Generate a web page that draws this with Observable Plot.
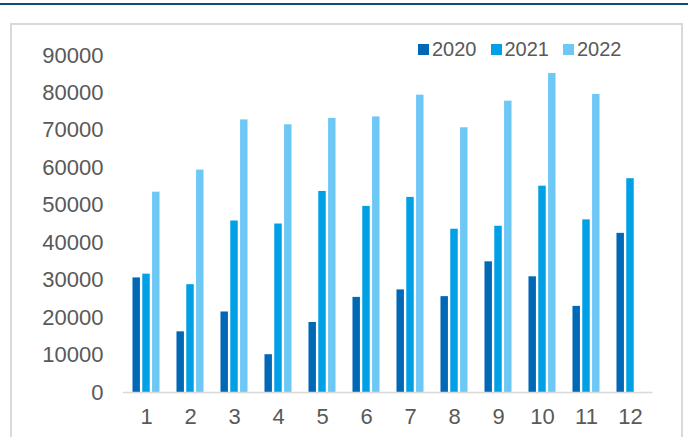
<!DOCTYPE html>
<html>
<head>
<meta charset="utf-8">
<script src="https://cdn.jsdelivr.net/npm/d3@7"></script>
<script src="https://cdn.jsdelivr.net/npm/@observablehq/plot@0.6"></script>
<style>
  html, body { margin: 0; padding: 0; background: #fff; }
  #wrap { position: relative; width: 688px; height: 437px; overflow: hidden; font-family: "Liberation Sans", Arial, sans-serif; }
  #topline { position: absolute; left: 0; top: 3px; width: 688px; height: 2px; background: #0e4c73; }
  #box { position: absolute; left: 10px; top: 23px; width: 669px; height: 430px; border: 2px solid #d9d9d9; }
  #chart { position: absolute; left: 0; top: 0; }
  #legend { position: absolute; left: 418px; top: 38px; display: flex; gap: 14px; color: #595959; font-size: 20px; line-height: 22px; }
  .item { display: flex; align-items: center; }
  .swatch { width: 11px; height: 11px; margin-right: 3px; }
</style>
</head>
<body>
<div id="wrap">
  <div id="topline"></div>
  <div id="box"></div>
  <div id="chart"></div>
  <div id="legend"></div>
</div>
<script>
// Monthly values per year (December 2022 not yet reported)
const months = [1, 2, 3, 4, 5, 6, 7, 8, 9, 10, 11, 12];
const v2020 = [30600, 16200, 21500, 10100, 18700, 25400, 27400, 25600, 34900, 30900, 23000, 42500];
const v2021 = [31600, 28800, 45800, 45000, 53700, 49700, 52100, 43600, 44400, 55100, 46100, 57100];
const v2022 = [53500, 59400, 72800, 71500, 73200, 73600, 79400, 70700, 77800, 85200, 79600];
const years = ["2020", "2021", "2022"];
const colors = ["#0068b5", "#00a0e6", "#6ec8f5"];
const yTicks = [0, 10000, 20000, 30000, 40000, 50000, 60000, 70000, 80000, 90000];

const series = [v2020, v2021, v2022];
const rows = series.map((vals, i) =>
  vals.map((v, j) => ({month: months[j], year: years[i], value: v}))
);

// Three bars per month: each year is its own mark, shifted inside the month band
const barW = 7.6;
const step = 9.8;
const band = (652.5 - 122.7) / months.length;
const inset = (band - barW) / 2;

const chart = Plot.plot({
  width: 688,
  height: 437,
  marginLeft: 123,
  marginRight: 35.5,
  marginTop: 55,
  marginBottom: 45,
  style: {fontFamily: "'Liberation Sans', Arial, sans-serif", fontSize: "22px", color: "#595959", background: "transparent"},
  x: {type: "band", domain: months, padding: 0, tickSize: 0, tickPadding: 16, label: null},
  y: {domain: [0, 90000], ticks: yTicks, tickSize: 0, tickPadding: 20, label: null, tickFormat: d => String(d)},
  marks: [
    ...rows.map((data, i) => Plot.barY(data, {
      x: "month",
      y: "value",
      fill: colors[i],
      insetLeft: inset,
      insetRight: inset,
      dx: (i - 1) * step
    })),
    Plot.ruleY([0], {stroke: "#d9d9d9", strokeWidth: 1.5})
  ]
});
document.getElementById("chart").appendChild(chart);

// Legend
const legend = document.getElementById("legend");
years.forEach((y, i) => {
  const item = document.createElement("div");
  item.className = "item";
  const sw = document.createElement("span");
  sw.className = "swatch";
  sw.style.background = colors[i];
  const t = document.createElement("span");
  t.textContent = y;
  item.appendChild(sw);
  item.appendChild(t);
  legend.appendChild(item);
});
</script>
</body>
</html>
